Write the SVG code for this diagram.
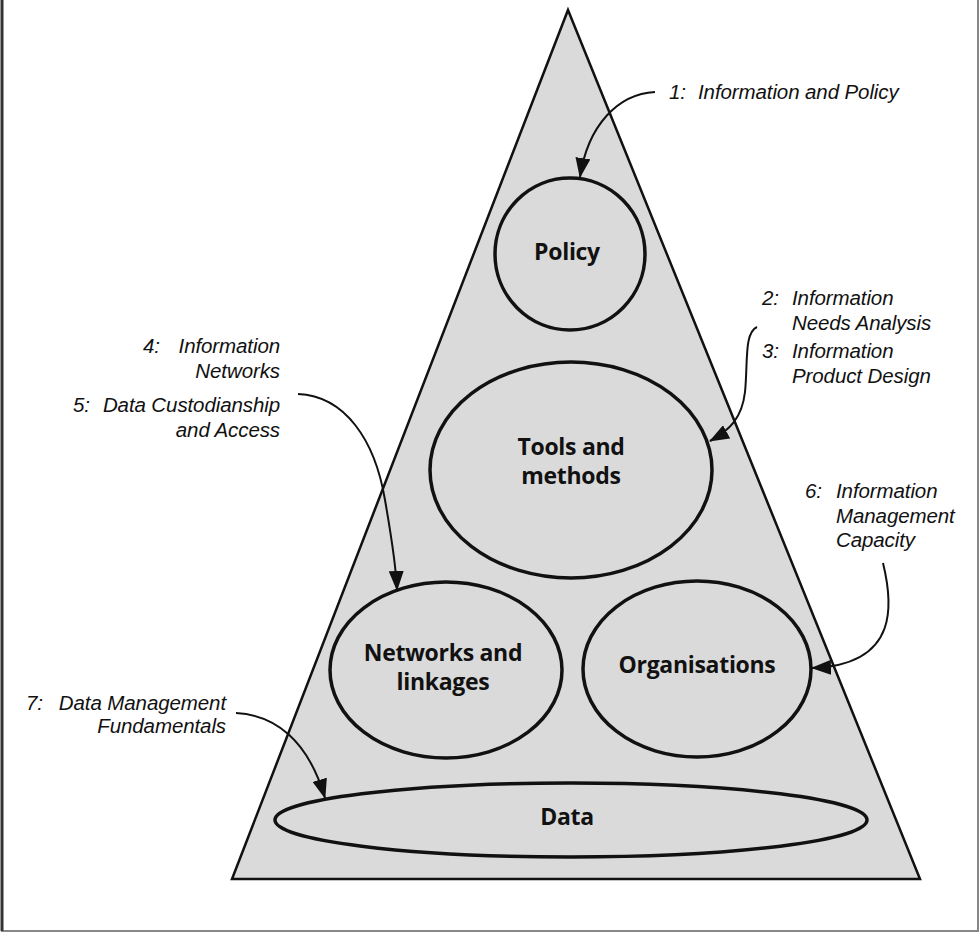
<svg xmlns="http://www.w3.org/2000/svg" width="980" height="934" viewBox="0 0 980 934">
<defs>
<marker id="ah" viewBox="0 0 20 15" refX="19" refY="7.5" markerWidth="20" markerHeight="15" markerUnits="userSpaceOnUse" orient="auto">
<path d="M0,0 L20,7.5 L0,15 Z" fill="#111"/>
</marker>
</defs>
<style>
.shape{fill:none;stroke:#111;stroke-width:3.5}
.tri{fill:#dadada;stroke:#111;stroke-width:2.5;stroke-linejoin:miter}
.node{font-family:"Open Sans","Liberation Sans",sans-serif;font-weight:bold;font-size:23px;fill:#111;text-anchor:middle;letter-spacing:-0.3px}
.lab{font-family:"Liberation Sans","Open Sans",sans-serif;font-style:italic;font-size:20.5px;fill:#111;letter-spacing:-0.1px}
.r{text-anchor:end}
.conn{fill:none;stroke:#111;stroke-width:2}
</style>
<rect x="2" y="-4" width="976" height="935" fill="#fff" stroke="#888" stroke-width="2"/>
<line x1="2" y1="0" x2="2" y2="931" stroke="#333" stroke-width="3"/>
<polygon class="tri" points="568,10 920,879 232,879"/>
<g id="policy"><ellipse class="shape" cx="570" cy="254" rx="75" ry="76"/><text class="node" x="567" y="260">Policy</text></g>
<g id="tools"><ellipse class="shape" cx="571" cy="470" rx="141" ry="108"/><text class="node" x="571" y="455">Tools and</text><text class="node" x="571" y="484">methods</text></g>
<g id="networks"><ellipse class="shape" cx="446" cy="670" rx="116" ry="88"/><text class="node" x="443" y="661">Networks and</text><text class="node" x="443" y="690">linkages</text></g>
<g id="organisations"><ellipse class="shape" cx="697" cy="669" rx="114" ry="88"/><text class="node" x="697" y="673">Organisations</text></g>
<g id="data"><ellipse class="shape" cx="571" cy="820" rx="296" ry="37"/><text class="node" x="567" y="825">Data</text></g>
<g id="labels">
<text class="lab" x="669" y="99">1:</text><text class="lab" x="698" y="99">Information and Policy</text>
<text class="lab" x="762" y="305">2:</text><text class="lab" x="792" y="305">Information</text>
<text class="lab" x="792" y="330">Needs Analysis</text>
<text class="lab" x="762" y="358">3:</text><text class="lab" x="792" y="358">Information</text>
<text class="lab" x="792" y="383">Product Design</text>
<text class="lab" x="143" y="353">4:</text><text class="lab r" x="280" y="353">Information</text>
<text class="lab r" x="280" y="378">Networks</text>
<text class="lab" x="73" y="412">5:</text><text class="lab r" x="280" y="412">Data Custodianship</text>
<text class="lab r" x="280" y="437">and Access</text>
<text class="lab" x="805" y="498">6:</text><text class="lab" x="836" y="498">Information</text>
<text class="lab" x="836" y="523">Management</text>
<text class="lab" x="836" y="547">Capacity</text>
<text class="lab" x="26" y="710">7:</text><text class="lab r" x="226" y="710">Data Management</text>
<text class="lab r" x="226" y="733">Fundamentals</text>
</g>
<g id="connectors">
<path class="conn" marker-end="url(#ah)" d="M655,92 C618,94 588,125 580,177"/>
<path class="conn" marker-end="url(#ah)" d="M757,327 C744,333 748,362 745,392 C742,418 730,430 710,441"/>
<path class="conn" marker-end="url(#ah)" d="M298,394 C345,396 375,440 385,500 C392,540 396,565 397,590"/>
<path class="conn" marker-end="url(#ah)" d="M883,563 C892,600 902,665 812,668"/>
<path class="conn" marker-end="url(#ah)" d="M236,713 C275,715 308,740 325,798"/>
</g>
</svg>
